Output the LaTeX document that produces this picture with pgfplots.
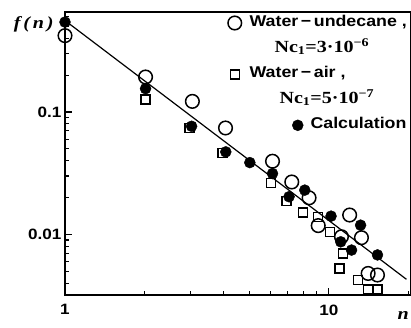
\documentclass[border=0pt]{standalone}
\usepackage{fontspec}
\setmainfont{Liberation Sans}[FakeStretch=1.14]
\newfontfamily\serifbf{Liberation Serif}[FakeStretch=1.18]
\usepackage{pgfplots}
\pgfplotsset{compat=1.18}
\pgfplotsset{
  dotimg/.style={legend image code/.code={\draw[##1] plot coordinates {(0pt,0pt)};}},
  shiftimg/.style={legend image code/.code={\draw[overlay,##1] plot coordinates {(63pt,0pt)};}},
}
\pgfplotstableread{
x y
1.0 0.42
2.02 0.193
3.04 0.122
4.06 0.074
6.12 0.0396
7.24 0.0268
8.42 0.0199
9.12 0.0118
11.17 0.00957
12.0 0.0144
13.3 0.0094
14.1 0.0048
15.3 0.00466
}\undecane
\pgfplotstableread{
x y
2.02 0.126
2.96 0.074
3.96 0.0463
6.03 0.0264
6.9 0.0187
8.0 0.0151
9.12 0.0139
10.1 0.0105
11.3 0.0070
11.0 0.00528
12.9 0.00425
14.1 0.00356
15.3 0.00356
}\air
\pgfplotstableread{
x y
1.0 0.542
2.02 0.155
3.02 0.0764
4.07 0.0472
5.02 0.0386
6.12 0.0314
7.07 0.0203
8.11 0.023
10.2 0.0141
11.1 0.0087
12.2 0.00745
13.2 0.0119
15.3 0.0068
}\calc
\begin{document}
\begin{tikzpicture}
\begin{axis}[
  name=main,
  xmode=log, ymode=log,
  scale only axis, width=346pt, height=283pt,
  xmin=1, xmax=20.5, ymin=0.0032, ymax=0.655,
  clip=false,
  axis line style={line width=1.6pt},
  every tick/.style={black, line width=1.1pt},
  major tick length=7pt, minor tick length=4pt,
  tick pos=left, tick align=inside,
  xtick={1,10}, xticklabels={1,10},
  ytick={0.01,0.1}, yticklabels={0.01,0.1},
  minor xtick={2,3,4,5,6,7,8,9,20},
  minor ytick={0.004,0.005,0.006,0.007,0.008,0.009,0.02,0.03,0.04,0.05,0.06,0.07,0.08,0.09,0.2,0.3,0.4,0.5,0.6},
  /pgf/number format/assume math mode=true,
  ticklabel style={font=\fontsize{15}{17}\selectfont\bfseries},
  xticklabel style={yshift=-6pt},
  ylabel={\serifbf\bfseries\itshape f\,(\,n\,)},
  ylabel style={at={(rel axis cs:0,1)}, anchor=north east, rotate=-90, xshift=-8pt, yshift=-1pt, font=\fontsize{17}{19}\selectfont},
  legend style={at={(rel axis cs:1,1)}, anchor=north east, xshift=-4pt, yshift=-4pt, draw=none, fill=none,
    font=\fontsize{15.6}{17}\selectfont\bfseries, row sep=12.5pt, inner sep=0pt,
    nodes={text height=10pt, text depth=3pt, inner sep=0pt},
    /tikz/every odd column/.style={column sep=8pt}},
  legend cell align=left,
]
\addplot[forget plot, line width=1.2pt] coordinates {(1,0.558) (19.7,0.0043)};
\addplot[only marks, mark=o, mark size=6.8pt, line width=1.5pt, dotimg] table {\undecane};
\addlegendentry{Water\,−\,undecane ,}
\addlegendimage{empty legend}
\addlegendentry{\hspace{25pt}{\serifbf\bfseries\fontsize{17}{19}\selectfont Nc\textsubscript{1}=3·10\textsuperscript{−6}}}
\addplot[only marks, mark=square, mark size=4.5pt, line width=1.5pt, dotimg] table {\air};
\addlegendentry{Water\,−\,air ,}
\addlegendimage{empty legend}
\addlegendentry{\hspace{30pt}{\serifbf\bfseries\fontsize{17}{19}\selectfont Nc\textsubscript{1}=5·10\textsuperscript{−7}}}
\addplot[only marks, mark=*, mark size=5.5pt, shiftimg] table {\calc};
\addlegendentry{\hspace{61pt}Calculation}
\node[anchor=base east, inner sep=0pt, font=\fontsize{17}{19}\selectfont] at (rel axis cs:1,0) [yshift=-24pt, xshift=-2pt] {\serifbf\bfseries\itshape n};
\end{axis}
\pgfresetboundingbox
\path[use as bounding box] ([shift={(-65pt,-32pt)}]main.south west) rectangle ([shift={(0pt,12pt)}]main.north east);
\end{tikzpicture}
\end{document}
